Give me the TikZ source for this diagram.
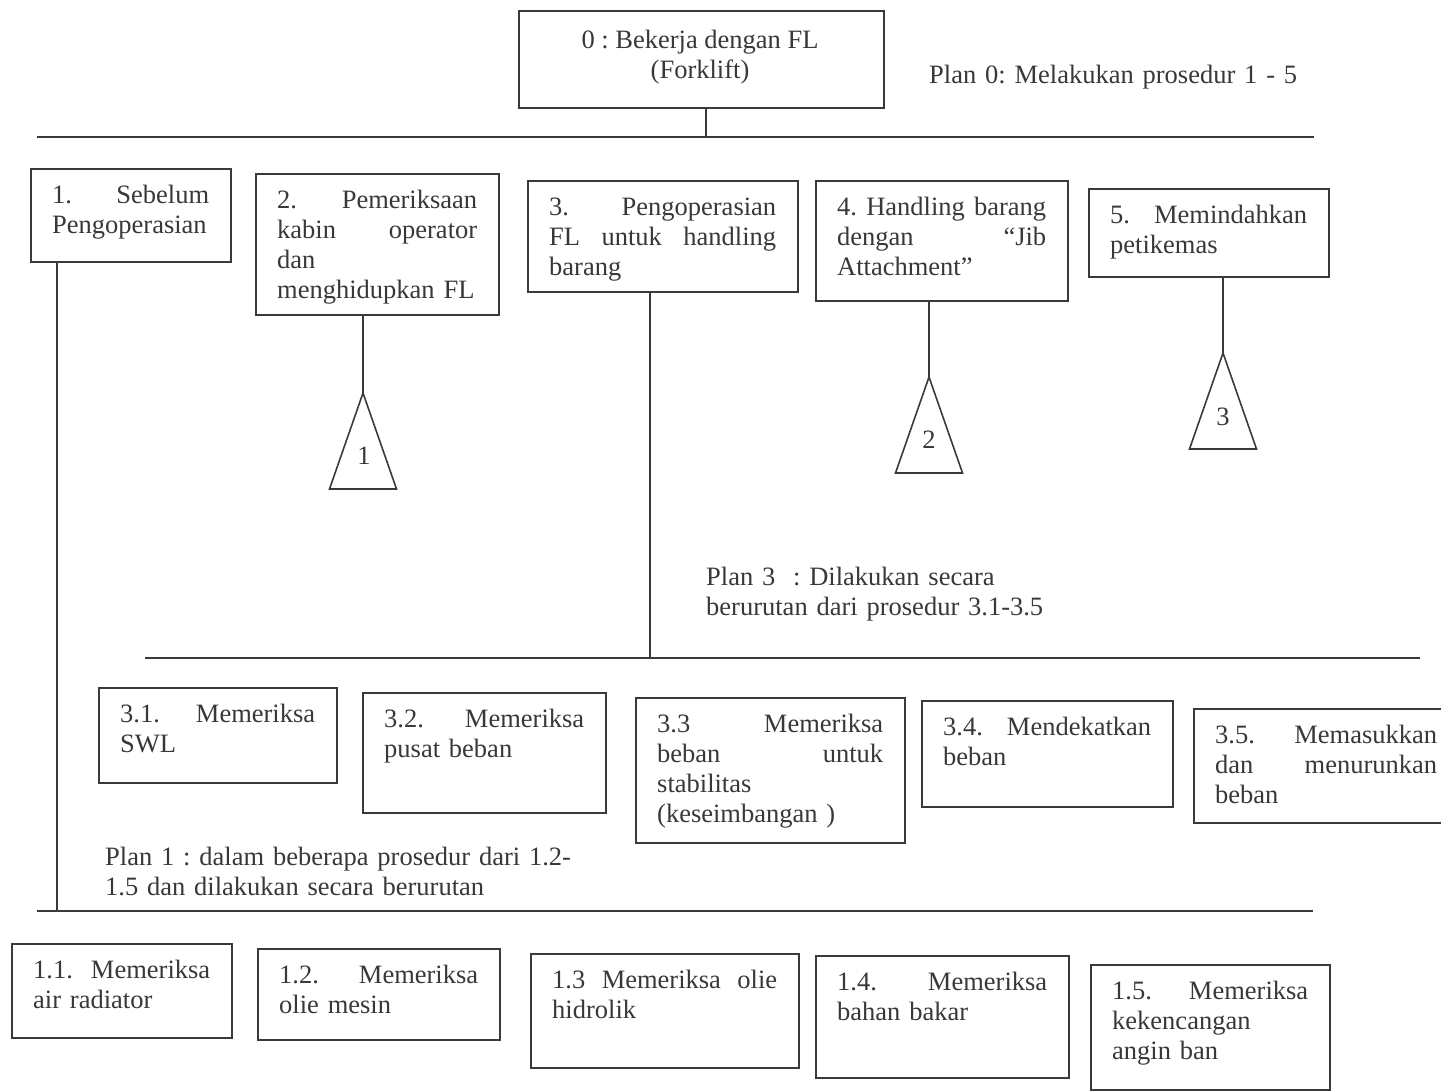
\documentclass[tikz,border=0pt]{standalone}
\usepackage{fontspec}
\setmainfont{Liberation Serif}
\frenchspacing
\definecolor{ink}{HTML}{383838}
\definecolor{rulegray}{HTML}{3A3A3A}
\newcommand\fsz{\fontsize{26.5}{30}\selectfont}
\newcommand\tstrut{\rule{0pt}{22pt}}
% task box: name, left, top, right, bottom, text (top-aligned, justified by hand)
\newcommand\taskbox[6]{%
  \pgfmathsetmacro\tbw{#4-#2}%
  \pgfmathsetmacro\tbh{#5-#3}%
  \pgfmathsetmacro\tbt{#4-#2-43}%
  \node[task, minimum width=\tbw pt, minimum height=\tbh pt] (#1) at (#2,#3) {};
  \node[txt=\tbt pt] (#1t) at (#2+22,#3+13) {\tstrut #6};
}
\begin{document}
\begin{tikzpicture}[x=1pt,y=-1pt,
  task/.style={draw=rulegray, line width=1.6pt, inner sep=0pt, anchor=north west},
  txt/.style={anchor=north west, inner sep=0pt, text width=#1, align=left, font=\fsz, text=ink},
  link/.style={draw=rulegray, line width=1.6pt},
  bar/.style={draw=rulegray, line width=2pt},
  subtree/.style={draw=rulegray, line width=1.6pt, line join=miter},
  num/.style={font=\fsz, text=ink, inner sep=0pt}]
\useasboundingbox (0,0) rectangle (1441,1091);

% root task
\node[task, minimum width=365pt, minimum height=97pt] (b0) at (518,10) {};
\node[font=\fsz, text=ink, align=center, anchor=north, inner sep=0pt] (b0t) at (700,26)
  {\tstrut 0 : Bekerja dengan FL\\(Forklift)};
\node[txt=600pt] (p0) at (929,61) {\tstrut Plan 0: Melakukan prosedur 1 - 5};

% level 1
\taskbox{b1}{30}{168}{230}{261}{1.\hfill Sebelum\\Pengoperasian}
\taskbox{b2}{255}{173}{498}{314}{2.\hfill Pemeriksaan\\kabin\hfill operator\\dan\\menghidupkan FL}
\taskbox{b3}{527}{180}{797}{291}{3.\hfill Pengoperasian\\FL\hfill untuk\hfill handling\\barang}
\taskbox{b4}{815}{180}{1067}{300}{4.\hfill Handling\hfill barang\\dengan\hfill “Jib\\Attachment”}
\taskbox{b5}{1088}{188}{1328}{276}{5.\hfill Memindahkan\\petikemas}

% plan 3 subtasks
\node[txt=500pt] (p3) at (706,563) {\tstrut Plan 3 \ : Dilakukan secara\\berurutan dari prosedur 3.1-3.5};
\taskbox{b31}{98}{687}{336}{782}{3.1.\hfill Memeriksa\\SWL}
\taskbox{b32}{362}{692}{605}{812}{3.2.\hfill Memeriksa\\pusat beban}
\taskbox{b33}{635}{697}{904}{842}{3.3\hfill Memeriksa\\beban\hfill untuk\\stabilitas\\(keseimbangan )}
\taskbox{b34}{921}{700}{1172}{806}{3.4.\hfill Mendekatkan\\beban}
\taskbox{b35}{1193}{708}{1458}{822}{3.5.\hfill Memasukkan\\dan\hfill menurunkan\\beban}

% plan 1 subtasks
\node[txt=600pt] (p1) at (105,843) {\tstrut Plan 1 : dalam beberapa prosedur dari 1.2-\\1.5 dan dilakukan secara berurutan};
\taskbox{b11}{11}{943}{231}{1037}{1.1.\hfill Memeriksa\\air radiator}
\taskbox{b12}{257}{948}{499}{1039}{1.2.\hfill Memeriksa\\olie mesin}
\taskbox{b13}{530}{953}{798}{1067}{1.3\hfill Memeriksa\hfill olie\\hidrolik}
\taskbox{b14}{815}{955}{1068}{1077}{1.4.\hfill Memeriksa\\bahan bakar}
\taskbox{b15}{1090}{964}{1329}{1089}{1.5.\hfill Memeriksa\\kekencangan\\angin ban}

% horizontal bars and their joints
\coordinate (h0l) at (37,137);  \coordinate (h0r) at (1314,137);
\coordinate (h3l) at (145,658); \coordinate (h3r) at (1420,658);
\coordinate (h1l) at (37,911);  \coordinate (h1r) at (1313,911);
\coordinate (j0) at (706,137);
\coordinate (j3) at (650,658);
\coordinate (j1) at (57,911);
\draw[bar] (h0l) -- (h0r);
\draw[bar] (h3l) -- (h3r);
\draw[bar] (h1l) -- (h1r);
\draw[link] (b0.south -| j0) -- (j0);
\draw[link] (b3.south -| j3) -- (j3);
\draw[link] (b1.south -| j1) -- (j1);

% subtree triangles
\coordinate (tri1) at (363,393);
\coordinate (tri2) at (929,377);
\coordinate (tri3) at (1223,353);
\draw[link] (b2.south -| tri1) -- (tri1);
\draw[link] (b4.south -| tri2) -- (tri2);
\draw[link] (b5.south -| tri3) -- (tri3);
\draw[subtree] (tri1) -- ++(-33.5,96) -- ++(67,0) -- cycle;
\draw[subtree] (tri2) -- ++(-33.5,96) -- ++(67,0) -- cycle;
\draw[subtree] (tri3) -- ++(-33.5,96) -- ++(67,0) -- cycle;
\node[num] (n1) at (364,456) {1};
\node[num] (n2) at (929,440) {2};
\node[num] (n3) at (1223,417) {3};
\end{tikzpicture}
\end{document}
